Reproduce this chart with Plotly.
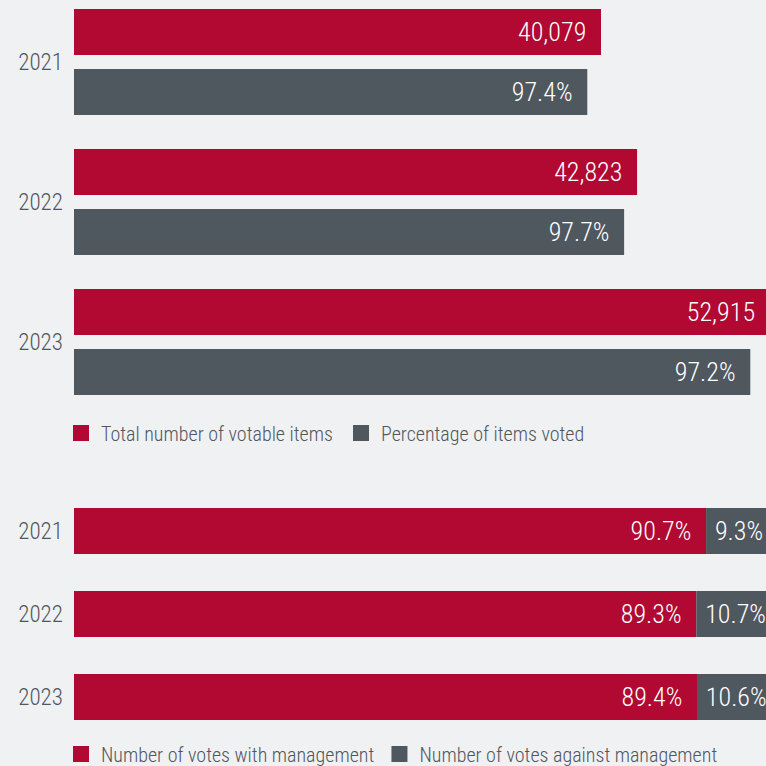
import plotly.graph_objects as go

years = ["2021", "2022", "2023"]
votable_items = [40079, 42823, 52915]
pct_voted = [97.4, 97.7, 97.2]
votes_with = [90.7, 89.3, 89.4]
votes_against = [9.3, 10.7, 10.6]

RED = "#B10932"
GREY = "#4F575F"
BG = "#F0F1F3"
TXT = "#4F575E"
FONT = "Liberation Sans Narrow, Roboto Condensed, Roboto, sans-serif"
NB = "\u00a0"

items_voted = [v * p / 100 for v, p in zip(votable_items, pct_voted)]

fig = go.Figure()

lab_font = dict(family=FONT, size=26, color="white", weight=300)

fig.add_trace(go.Bar(
    y=years, x=votable_items, orientation="h", marker=dict(color=RED, line_width=0),
    width=0.329, offset=-0.379,
    text=[f"{v:,}" + NB * 2 for v in votable_items], textposition="inside",
    insidetextanchor="end", textfont=lab_font, constraintext="none",
    xaxis="x", yaxis="y", showlegend=False, hoverinfo="skip"))
fig.add_trace(go.Bar(
    y=years, x=items_voted, orientation="h", marker=dict(color=GREY, line_width=0),
    width=0.329, offset=0.05,
    text=[f"{p:.1f}%" + NB * 2 for p in pct_voted], textposition="inside",
    insidetextanchor="end", textfont=lab_font, constraintext="none",
    xaxis="x", yaxis="y", showlegend=False, hoverinfo="skip"))

fig.add_trace(go.Bar(
    y=years, x=votes_with, orientation="h", marker=dict(color=RED, line_width=0),
    width=0.554, offset=-0.277,
    text=[f"{p:.1f}%" + NB * 2 for p in votes_with], textposition="inside",
    insidetextanchor="end", textfont=lab_font, constraintext="none",
    xaxis="x2", yaxis="y2", showlegend=False, hoverinfo="skip"))
fig.add_trace(go.Bar(
    y=years, x=votes_against, base=votes_with, orientation="h",
    marker=dict(color=GREY, line_width=0),
    width=0.554, offset=-0.277,
    text=[NB + f"{p:.1f}%" for p in votes_against], textposition="inside",
    insidetextanchor="start", textfont=lab_font, constraintext="none",
    xaxis="x2", yaxis="y2", showlegend=False, hoverinfo="skip"))

# legend entries
for name, col, lg in [("Total number of votable items", RED, "legend"),
                      ("Percentage of items voted", GREY, "legend"),
                      ("Number of votes with management", RED, "legend2"),
                      ("Number of votes against management", GREY, "legend2")]:
    fig.add_trace(go.Scatter(x=[None], y=[None], mode="markers", name=name,
                             marker=dict(symbol="square", size=16, color=col),
                             legend=lg, xaxis="x", yaxis="y"))

xdom = [74 / 766, 1]
leg_font = dict(family=FONT, size=20, color=TXT, weight=300)
fig.update_layout(
    width=766, height=766,
    margin=dict(l=0, r=0, t=0, b=0, autoexpand=False),
    paper_bgcolor=BG, plot_bgcolor=BG, barmode="overlay",
    font=dict(family=FONT, color=TXT),
    xaxis=dict(domain=xdom, range=[0, 52628], visible=False, fixedrange=True),
    yaxis=dict(domain=[(766 - 410) / 766, 1], type="category", range=[2.486, -0.443],
               showgrid=False, zeroline=False, showline=False, ticks="",
               tickfont=dict(size=23, color=TXT, weight=300), ticklabelstandoff=10),
    xaxis2=dict(domain=xdom, range=[0, 99.3], visible=False, anchor="y2"),
    yaxis2=dict(domain=[(766 - 740) / 766, (766 - 470) / 766], type="category",
                range=[2.518, -0.735], anchor="x2",
                showgrid=False, zeroline=False, showline=False, ticks="",
                tickfont=dict(size=23, color=TXT, weight=300), ticklabelstandoff=10),
    legend=dict(orientation="h", x=61 / 766, xanchor="left", y=(766 - 433) / 766,
                yanchor="middle", font=leg_font, itemwidth=30,
                entrywidth=235, entrywidthmode="pixels", bgcolor="rgba(0,0,0,0)",
                itemclick=False, itemdoubleclick=False),
    legend2=dict(orientation="h", x=61 / 766, xanchor="left", y=(766 - 754) / 766,
                 yanchor="middle", font=leg_font, itemwidth=30,
                 bgcolor="rgba(0,0,0,0)",
                 itemclick=False, itemdoubleclick=False),
)

fig.write_html("out.html")
